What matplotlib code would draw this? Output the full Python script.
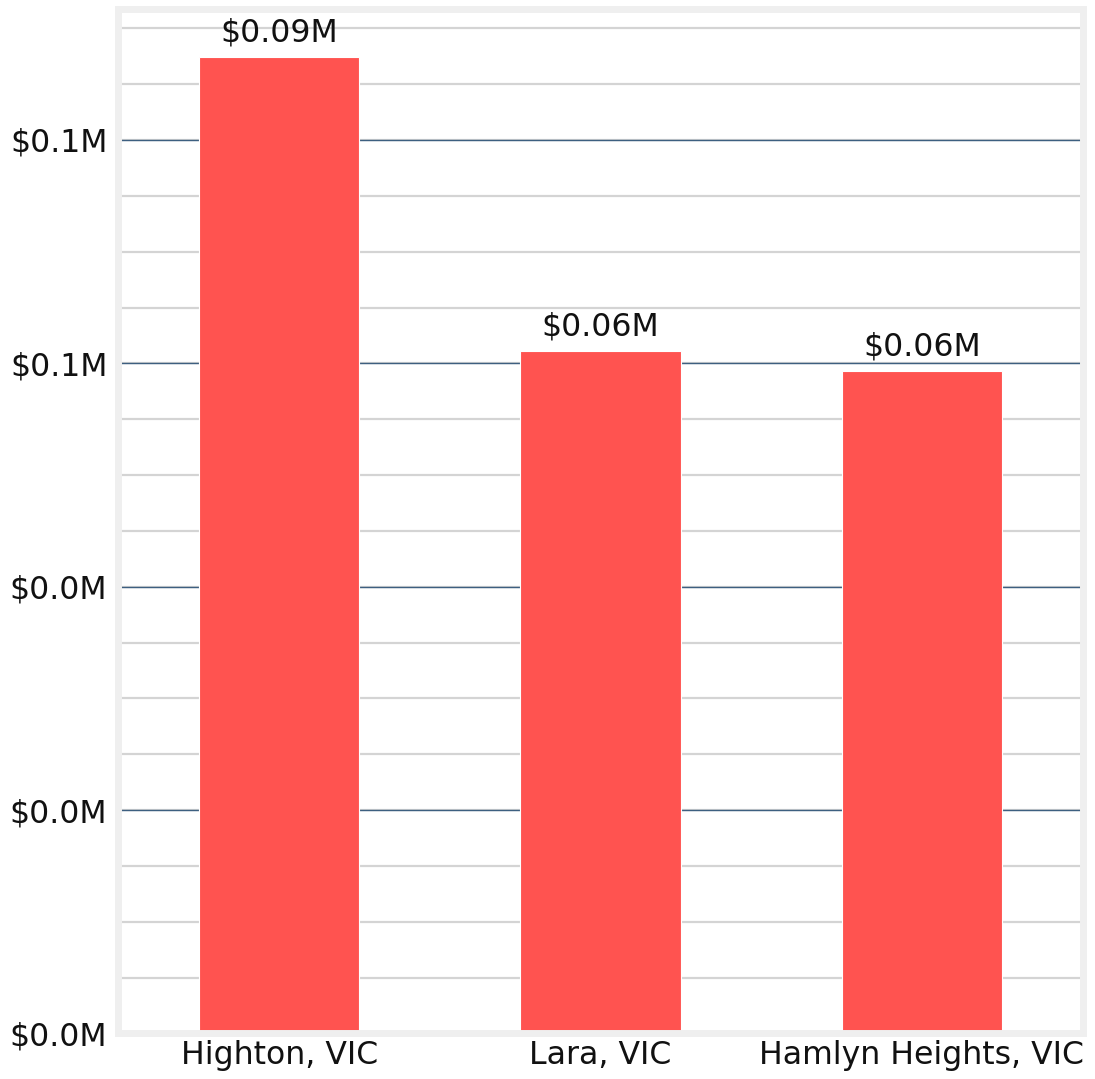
import numpy as np
import matplotlib.pyplot as plt
from matplotlib.ticker import FuncFormatter, MultipleLocator

# data (millions of dollars)
suburbs = ["Highton, VIC", "Lara, VIC", "Hamlyn Heights, VIC"]
values = [0.0874, 0.0611, 0.0593]
value_labels = ["$0.09M", "$0.06M", "$0.06M"]

fig = plt.figure(figsize=(10.95, 10.79), dpi=100)
ax = fig.add_axes([0.1082, 0.0422, 0.8804, 0.9499])

x = np.arange(len(suburbs))
bars = ax.bar(x, values, width=0.5, color="#ff5350", edgecolor="white", linewidth=0.8, zorder=3)
ax.bar_label(bars, labels=value_labels, padding=6, fontsize=22.7, color="#111111")

ax.set_xlim(-0.5, 2.5)
ax.set_ylim(0, max(values) * 1.05)

ax.yaxis.set_major_locator(MultipleLocator(0.02))
ax.yaxis.set_minor_locator(MultipleLocator(0.005))
ax.yaxis.set_major_formatter(FuncFormatter(lambda v, p: "$%.1fM" % v))

ax.grid(axis="y", which="both", color="#d4d4d4", linewidth=1.6)
for t in ax.get_yticks():
    if 0 < t < ax.get_ylim()[1]:
        ax.axhline(t, color="#3d5f80", linewidth=1.0, zorder=2.6)

ax.set_xticks(x)
ax.set_xticklabels(suburbs)
ax.tick_params(axis="both", which="both", length=0, labelsize=22.7, colors="#111111")
ax.tick_params(axis="x", pad=5)
ax.tick_params(axis="y", pad=8)

for s in ax.spines.values():
    s.set_color("#efefef")
    s.set_linewidth(5)
    s.set_zorder(4)

fig.savefig("out.png", dpi=100, facecolor="white")
